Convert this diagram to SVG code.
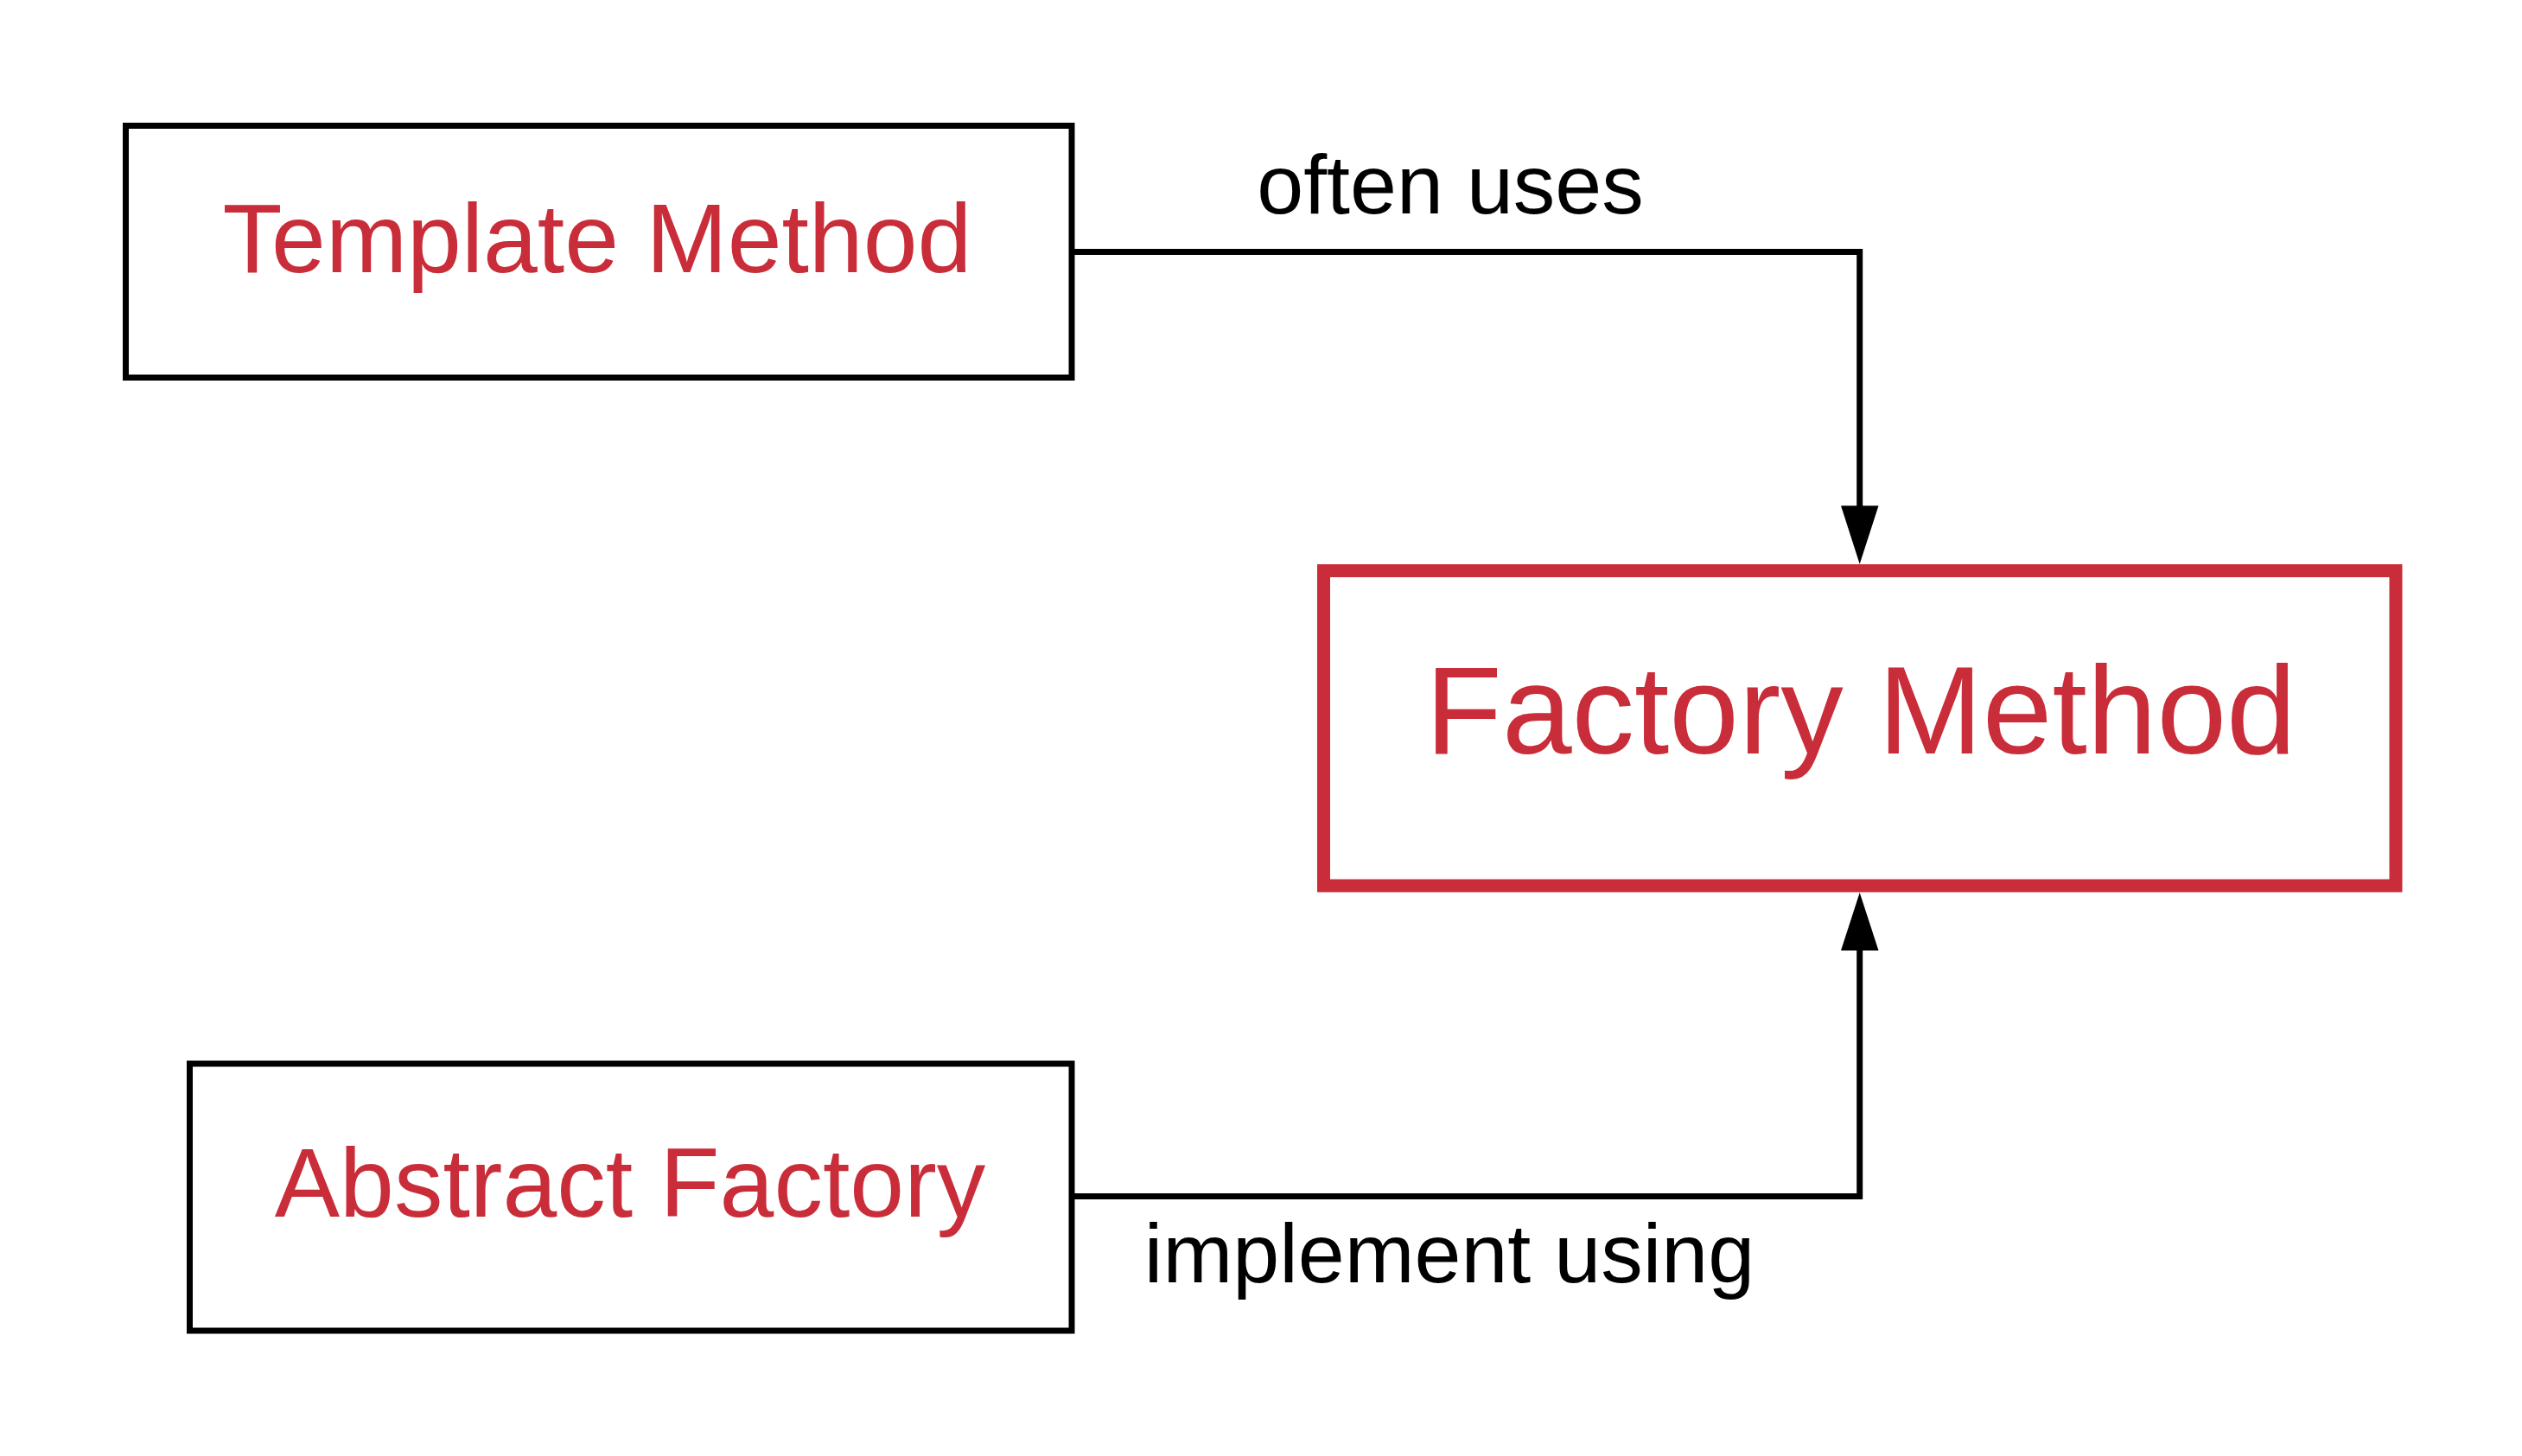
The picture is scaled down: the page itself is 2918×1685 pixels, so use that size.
<svg xmlns="http://www.w3.org/2000/svg" width="2918" height="1685" viewBox="0 0 2918 1685">
  <style>
    .box { fill: #ffffff; stroke: #000000; stroke-width: 7; }
    .main { fill: #ffffff; stroke: #C92D39; stroke-width: 15; }
    .name { font-family: "Liberation Sans", Arial, sans-serif; fill: #C92D39; text-anchor: middle; }
    .label { font-family: "Liberation Sans", Arial, sans-serif; fill: #000000; font-size: 97px; text-anchor: middle; }
    .conn { fill: none; stroke: #000000; stroke-width: 7; }
    .head { fill: #000000; stroke: none; }
  </style>
  <rect width="2918" height="1685" fill="#ffffff"/>
  <g id="template-method">
    <rect class="box" x="145.5" y="145.5" width="1094.5" height="291.5"/>
    <text class="name" x="691" y="315" font-size="113">Template Method</text>
  </g>
  <g id="factory-method">
    <rect class="main" x="1531.5" y="660.5" width="1240.5" height="364.5"/>
    <text class="name" x="2153" y="872" font-size="145">Factory Method</text>
  </g>
  <g id="abstract-factory">
    <rect class="box" x="219.5" y="1231" width="1020.5" height="309"/>
    <text class="name" x="729" y="1407.5" font-size="113">Abstract Factory</text>
  </g>
  <g id="connectors">
    <g id="often-uses">
      <polyline class="conn" points="1240,291.5 2151.7,291.5 2151.7,588"/>
      <polygon class="head" points="2130,585.3 2173.5,585.3 2151.7,652.7"/>
      <text class="label" x="1678" y="246.5">often uses</text>
    </g>
    <g id="implement-using">
      <polyline class="conn" points="1240,1384.5 2151.7,1384.5 2151.7,1097"/>
      <polygon class="head" points="2130,1100 2173.5,1100 2151.7,1033"/>
      <text class="label" x="1677" y="1484.3">implement using</text>
    </g>
  </g>
</svg>
